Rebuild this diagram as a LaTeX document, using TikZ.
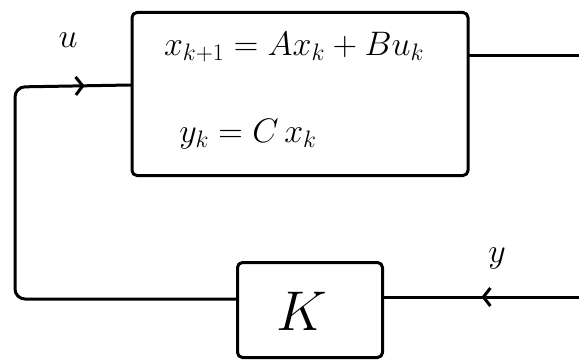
\RequirePackage{fix-cm}
\documentclass[tikz,border=0pt]{standalone}
\usetikzlibrary{arrows.meta,decorations.markings}
\begin{document}
\begin{tikzpicture}[x=1pt,y=-1pt,
  line width=3pt, line cap=round, line join=round,
  block/.style={draw, rounded corners=5pt, inner sep=0pt},
  wire/.style={draw, rounded corners=10pt},
  midarrow/.style={postaction={decorate}, decoration={markings,
    mark=at position #1 with {\arrow{Straight Barb[length=7pt,width=18pt]}}}},
  lbl/.style={font=\fontsize{34}{38}\selectfont}]
\useasboundingbox (0,0) rectangle (579,361);

% plant block with its state-space equations
\node[block, minimum width=336pt, minimum height=163pt] (P) at (300,94) {};
\node[lbl] (eqx) at (294,47) {$x_{k+1}=Ax_k+Bu_k$};
\node[lbl] (eqy) at (248,134) {$y_k= C\,x_k$};

% controller block
\node[block, minimum width=145pt, minimum height=95pt] (K) at (310,310) {};
\node[font=\fontsize{56}{60}\selectfont] (Klbl) at (302,311) {$K$};

% free ends of the signal lines
\coordinate (out) at (579,56);
\coordinate (yin) at (579,297);
\coordinate (lc) at (15,299);

% plant output
\draw (P.east |- out) -- (out);

% measurement into the controller
\draw[midarrow=0.5] (yin) -- (K.east |- yin);
\node[lbl] (ylbl) at (497,258) {$y$};

% control input back to the plant
\draw[wire, midarrow=0.915] (K.west |- lc) -- (lc) -- (lc |- 0,87) -- (P.west |- 0,85);
\node[lbl] (ulbl) at (68,40) {$u$};
\end{tikzpicture}
\end{document}
